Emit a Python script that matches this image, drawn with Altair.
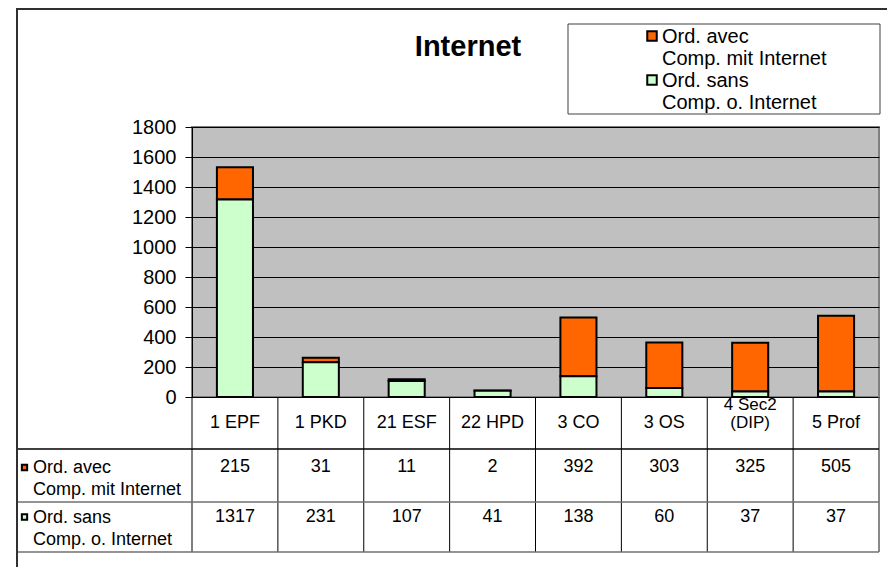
import altair as alt
import pandas as pd

# ---- data ----
categories = ["1 EPF", "1 PKD", "21 ESF", "22 HPD", "3 CO", "3 OS", "4 Sec2 (DIP)", "5 Prof"]
cat_labels = ["1 EPF", "1 PKD", "21 ESF", "22 HPD", "3 CO", "3 OS", "4 Sec2\n(DIP)", "5 Prof"]
series_names = ["Ord. avec\nComp. mit Internet", "Ord. sans\nComp. o. Internet"]
avec = [215, 31, 11, 2, 392, 303, 325, 505]
sans = [1317, 231, 107, 41, 138, 60, 37, 37]
series_colors = ["#ff6600", "#ccffcc"]
y_ticks = [0, 200, 400, 600, 800, 1000, 1200, 1400, 1600, 1800]
title_text = "Internet"

FONT = "Liberation Sans"
W, H = 687, 270

rows = []
for c, a, s in zip(categories, avec, sans):
    rows.append({"cat": c, "series": series_names[0], "value": a, "ord": 1})
    rows.append({"cat": c, "series": series_names[1], "value": s, "ord": 0})
df = pd.DataFrame(rows)
df_cat = pd.DataFrame({"cat": categories, "label": cat_labels})
df_series = pd.DataFrame({"series": series_names})
one = pd.DataFrame({"k": [0]})

color_scale = alt.Scale(domain=series_names, range=series_colors)
x_sort = categories

bars = alt.Chart(df).mark_bar(
    stroke="black", strokeWidth=2, width=alt.RelativeBandSize(0.42)
).encode(
    x=alt.X("cat:N", sort=x_sort,
            scale=alt.Scale(paddingInner=0, paddingOuter=0),
            axis=alt.Axis(labels=False, ticks=False, title=None, grid=False,
                          domainColor="black", domainWidth=1)),
    y=alt.Y("value:Q", stack="zero",
            scale=alt.Scale(domain=[0, 1800], nice=False),
            axis=alt.Axis(values=y_ticks, format="d", title=None, grid=True,
                          gridColor="black", gridOpacity=1, gridWidth=1,
                          domainColor="black", tickColor="black", tickSize=7,
                          labelFont=FONT, labelFontSize=20, labelColor="black",
                          labelPadding=9)),
    color=alt.Color("series:N", scale=color_scale, legend=None),
    order=alt.Order("ord:Q"),
)

# table vertical lines at band boundaries
vlines = alt.Chart(df_cat).mark_rule(color="black", strokeWidth=1).encode(
    x=alt.X("cat:N", sort=x_sort, bandPosition=0),
    y=alt.value(H), y2=alt.value(425),
)
vend = alt.Chart(one).mark_rule(color="#606060", strokeWidth=1.5).encode(
    x=alt.value(W), y=alt.value(H), y2=alt.value(425))

def hline(y, color):
    return alt.Chart(one).mark_rule(color=color, strokeWidth=1.5).encode(
        x=alt.value(-176), x2=alt.value(W), y=alt.value(y))

hlines = [hline(322, "black"), hline(375, "#707070"), hline(425, "#707070")]

cat_single = alt.Chart(df_cat).transform_filter(
    "indexof(datum.label, '\\n') < 0"
).mark_text(
    font=FONT, fontSize=18, baseline="middle", color="black"
).encode(x=alt.X("cat:N", sort=x_sort), y=alt.value(295.5), text="label:N")

cat_multi = alt.Chart(df_cat).transform_filter(
    "indexof(datum.label, '\\n') >= 0"
).mark_text(
    font=FONT, fontSize=17, baseline="middle", lineBreak="\n", lineHeight=18,
    color="black"
).encode(x=alt.X("cat:N", sort=x_sort), y=alt.value(277.5), text="label:N")

def table_row(i, y_val, y_lab, y_sq):
    s = series_names[i]
    vals = alt.Chart(df).transform_filter(alt.datum.series == s).mark_text(
        font=FONT, fontSize=18, baseline="alphabetic", color="black"
    ).encode(x=alt.X("cat:N", sort=x_sort), y=alt.value(y_val), text="value:Q")
    lab = alt.Chart(df_series).transform_filter(alt.datum.series == s).mark_text(
        font=FONT, fontSize=18, align="left", baseline="alphabetic", lineBreak="\n",
        lineHeight=22, color="black"
    ).encode(x=alt.value(-159), y=alt.value(y_lab), text="series:N")
    sq = alt.Chart(df_series).transform_filter(alt.datum.series == s).mark_square(
        size=28, stroke="black", strokeWidth=2, opacity=1
    ).encode(x=alt.value(-167.5), y=alt.value(y_sq),
             color=alt.Color("series:N", scale=color_scale, legend=None))
    return [vals, lab, sq]

row_layers = table_row(0, 345, 346, 340.5) + table_row(1, 395, 396, 390)

# legend
leg_box = alt.Chart(one).mark_rect(fill="white", stroke="#404040", strokeWidth=1).encode(
    x=alt.value(376), x2=alt.value(688), y=alt.value(-103), y2=alt.value(-13))

def legend_item(i, y_sq, y_txt):
    s = series_names[i]
    sq = alt.Chart(df_series).transform_filter(alt.datum.series == s).mark_square(
        size=90, stroke="black", strokeWidth=2, opacity=1
    ).encode(x=alt.value(460), y=alt.value(y_sq),
             color=alt.Color("series:N", scale=color_scale, legend=None))
    tx = alt.Chart(df_series).transform_filter(alt.datum.series == s).mark_text(
        font=FONT, fontSize=20, align="left", baseline="alphabetic", lineBreak="\n",
        lineHeight=22, color="black"
    ).encode(x=alt.value(470), y=alt.value(y_txt), text="series:N")
    return [sq, tx]

legend_layers = legend_item(0, -91, -84) + legend_item(1, -47, -40)

title = alt.Chart(one).mark_text(
    font=FONT, fontSize=29, fontWeight="bold", align="center", baseline="alphabetic",
    color="black"
).encode(x=alt.value(276), y=alt.value(-71), text=alt.value(title_text))

frame_top = alt.Chart(one).mark_rule(color="#303030", strokeWidth=2).encode(
    x=alt.value(-176), x2=alt.value(W + 30), y=alt.value(-118))
frame_left = alt.Chart(one).mark_rule(color="#303030", strokeWidth=2).encode(
    x=alt.value(-175), y=alt.value(-119), y2=alt.value(H + 200))

chart = alt.layer(
    bars, vlines, vend, *hlines, cat_single, cat_multi, *row_layers,
    leg_box, *legend_layers, title, frame_top, frame_left
).properties(
    width=W, height=H,
    autosize=alt.AutoSizeParams(type="none"),
    padding={"left": 184, "top": 119, "right": 8, "bottom": 170},
).configure_view(
    fill="#c0c0c0", stroke="#808080", strokeWidth=2
)

chart.save("out.html", embed_options={"renderer": "svg", "actions": False})
